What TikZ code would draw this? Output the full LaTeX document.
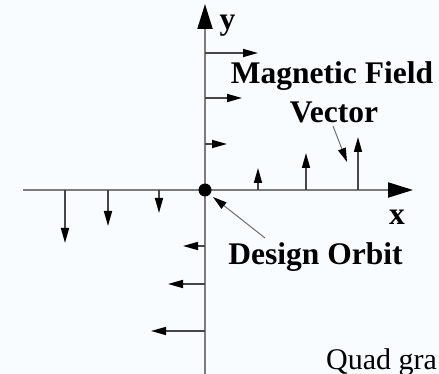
\documentclass[tikz,border=0pt]{standalone}
\usepackage{fontspec}
\setmainfont{Liberation Serif}
\usetikzlibrary{arrows.meta}
\definecolor{bg}{RGB}{248,252,255}
\definecolor{axisgray}{RGB}{125,125,125}
\definecolor{vecgray}{RGB}{70,70,70}
\definecolor{ptrgray}{RGB}{110,110,110}
\begin{document}
\begin{tikzpicture}[x=1pt,y=-1pt,
  axisline/.style={draw=axisgray,line width=2pt,-{Triangle[length=25pt,width=15pt,color=black]}},
  fieldvec/.style={draw=vecgray,line width=1.5pt,-{Triangle[length=15pt,width=8pt,color=black]}},
  pointer/.style={draw=ptrgray,line width=1pt,-{Triangle[length=14pt,width=8pt,color=black]}},
  boldlabel/.style={inner sep=0pt,anchor=base,font=\fontsize{31.5}{36}\selectfont\bfseries},
  plainlabel/.style={inner sep=0pt,anchor=base west,font=\fontsize{30}{34}\selectfont}]
\useasboundingbox (0,0) rectangle (439,374);
\fill[bg] (0,0) rectangle (439,374);
% axes
\coordinate (xl) at (23,190);
\coordinate (xr) at (413,190);
\coordinate (yb) at (205,374);
\coordinate (yt) at (205,4);
\draw[axisline] (xl) -- (xr);
\draw[axisline] (yb) -- (yt);
% field vectors along x axis
\foreach \i/\x/\t in {a/65/243,b/108/226,c/159/213,d/258/168,e/306/153,f/358/137}{
  \coordinate (xb\i) at (\x,190);
  \coordinate (xt\i) at (\x,\t);
  \draw[fieldvec] (xb\i) -- (xt\i);
}
% field vectors along y axis
\foreach \i/\y/\t in {a/53/258,b/98/242,c/144/227,d/246/183,e/284/168,f/331/151}{
  \coordinate (yb\i) at (205,\y);
  \coordinate (yt\i) at (\t,\y);
  \draw[fieldvec] (yb\i) -- (yt\i);
}
% origin
\node[circle,fill=black,inner sep=0pt,minimum size=13pt] (O) at (205,190) {};
% labels
\node[boldlabel] (ylab) at (227.5,30) {y};
\node[boldlabel] (xlab) at (397,225) {x};
\node[boldlabel] (mf) at (332,84) {Magnetic Field};
\node[boldlabel] (vec) at (334,123) {Vector};
\node[boldlabel] (do) at (315.5,264) {Design Orbit};
\node[plainlabel] (quad) at (326,369) {Quad gra};
% pointers
\coordinate (vp) at (333,126);
\coordinate (vq) at (347,162);
\draw[pointer] (vp) -- (vq);
\coordinate (dp) at (265,238);
\coordinate (dq) at (213,197);
\draw[pointer] (dp) -- (dq);
\end{tikzpicture}
\end{document}
